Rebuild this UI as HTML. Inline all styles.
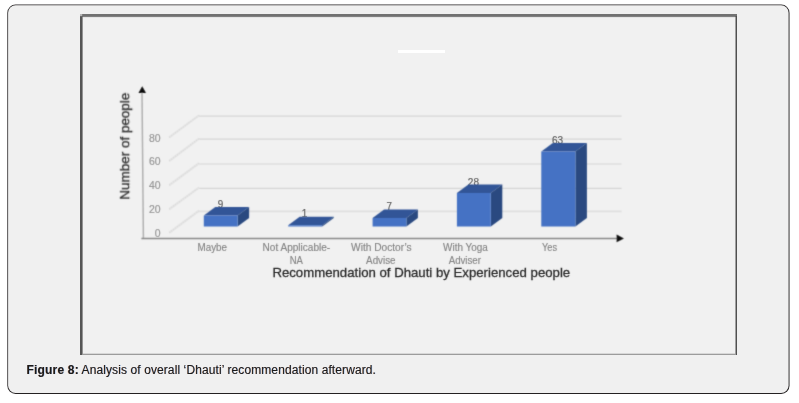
<!DOCTYPE html>
<html lang="en">
<head>
<meta charset="utf-8">
<title>Figure 8</title>
<style>
html,body{margin:0;padding:0;background:#fff;}
body{width:799px;height:403px;position:relative;overflow:hidden;font-family:"Liberation Sans",sans-serif;}
#art{position:absolute;left:0;top:0;width:799px;height:403px;display:block;}
#cap{position:absolute;left:26.6px;top:363px;margin:0;font-size:12px;line-height:14px;color:#1a1a1a;white-space:nowrap;letter-spacing:0.1px;text-shadow:-0.45px 0 0 rgba(225,95,0,0.36),0.45px 0 0 rgba(0,115,255,0.36);}
#cap b{font-weight:bold;letter-spacing:0.17px;}
svg text{font-family:"Liberation Sans",sans-serif;}
</style>
</head>
<body>
<svg id="art" width="799" height="403" viewBox="0 0 799 403">
  <defs>
    <filter id="soft" x="-5%" y="-5%" width="110%" height="110%"><feConvolveMatrix order="3" kernelMatrix="0.0256 0.1088 0.0256 0.1088 0.4624 0.1088 0.0256 0.1088 0.0256" divisor="1" edgeMode="duplicate"/></filter>
    <filter id="softL" x="-20%" y="-20%" width="140%" height="140%"><feConvolveMatrix order="3" kernelMatrix="0.0049 0.0602 0.0049 0.0602 0.7396 0.0602 0.0049 0.0602 0.0049" divisor="1" edgeMode="duplicate"/></filter>
    <filter id="softT" x="-5%" y="-5%" width="110%" height="110%"><feConvolveMatrix order="3" kernelMatrix="0.0100 0.0800 0.0100 0.0800 0.6400 0.0800 0.0100 0.0800 0.0100" divisor="1" edgeMode="duplicate"/></filter>
  </defs>
  <!-- card -->
  <rect x="7.32" y="4.6" width="782.2" height="389.35" rx="8.3" ry="8.3" fill="#242122"/>
  <rect x="8.1" y="5.27" width="780.5" height="387.75" rx="7.5" ry="7.5" fill="#f0f0f0"/>
  <!-- picture frame -->
  <g>
    <rect x="80" y="14" width="657" height="341" fill="#f1f1f1"/>
    <rect x="82" y="14" width="655" height="2" fill="#717171"/>
    <rect x="82" y="16" width="655" height="1" fill="#808080"/>
    <rect x="83" y="17" width="652" height="1" fill="#e4e4e4"/>
    <rect x="80" y="16" width="2.6" height="339" fill="#565656"/>
    <rect x="80" y="14" width="2.2" height="2.2" fill="#b4b4b4"/>
    <rect x="735.5" y="16" width="1.5" height="339" fill="#505050"/>
    <rect x="82.6" y="353.7" width="653" height="1.3" fill="#9c9c9c"/>
  </g>
  <!-- chart -->
  <rect x="398" y="50" width="47" height="3" fill="#ffffff"/>
  <g filter="url(#soft)">
    <!-- grid -->
    <g stroke="#d6d6d6" stroke-width="1.2" fill="none">
      <path d="M199 116.1H621.6M199 139.1H621.6M199 164H621.6M199 188.3H621.6"/>
      <path d="M199 211.4H621.6" stroke="#dfdfdf" stroke-width="1.8"/>
    </g>
    <g stroke="#e6e6e6" stroke-width="2.4" fill="none">
      <path d="M169.2 137.4L199 115.4M169.2 161L199 138.6M169.2 185.2L199 163.2M169.2 209.2L199 187.6M169.2 232.8L199 210.8"/>
    </g>
    <g stroke="#dadada" stroke-width="1.3" stroke-dasharray="1.3 1.1" fill="none">
      <path d="M169.2 137.4L199 115.4M169.2 161L199 138.6M169.2 185.2L199 163.2M169.2 209.2L199 187.6M169.2 232.8L199 210.8"/>
    </g>
    <!-- axes -->
    <path d="M142 92L143.4 238" stroke="#b0b0b0" stroke-width="1.5" fill="none"/>
    <path d="M141.4 238.4H617" stroke="#888888" stroke-width="1.5" fill="none"/>
    <path d="M142.2 86.2L146 93H138.5Z" fill="#0a0a0a"/>
    <path d="M623.9 238.4L616.6 242.3V234.5Z" fill="#0a0a0a"/>
  </g>
  <!-- data labels -->
  <g>
    <g filter="url(#softL)" font-size="10.8" fill="#646464" stroke="#646464" stroke-width="0.2" text-anchor="middle">
      <text x="220.6" y="207.9" textLength="5.5" lengthAdjust="spacingAndGlyphs">9</text>
      <text x="304.6" y="217.1" textLength="5.5" lengthAdjust="spacingAndGlyphs">1</text>
      <text x="389.2" y="209.7" textLength="5.5" lengthAdjust="spacingAndGlyphs">7</text>
      <text x="473.4" y="186.2" textLength="11.2" lengthAdjust="spacingAndGlyphs">28</text>
      <text x="557.6" y="143.9" textLength="11.2" lengthAdjust="spacingAndGlyphs">63</text>
    </g>
  </g>
  <!-- bars -->
  <g filter="url(#soft)">
    <g>
      <!-- Maybe 9 -->
      <path d="M203.8 215.6L215.3 207.1H249.1L237.6 215.6Z" fill="#315597"/>
      <path d="M237.6 215.6L249.1 207.1V218.1L237.6 226.6Z" fill="#294980"/>
      <path d="M203.8 215.6H237.6V226.6H203.8Z" fill="#4472c4"/>
      <!-- Not Applicable 1 -->
      <path d="M288.2 225.3L299.7 216.8H333.7L322.2 225.3Z" fill="#315597"/>
      <path d="M322.2 225.3L333.7 216.8V218.1L322.2 226.6Z" fill="#294980"/>
      <path d="M288.2 225.3H322.2V226.6H288.2Z" fill="#4472c4"/>
      <!-- With Doctor 7 -->
      <path d="M372.6 218.1L384.1 209.6H417.9L406.4 218.1Z" fill="#315597"/>
      <path d="M406.4 218.1L417.9 209.6V218.1L406.4 226.6Z" fill="#294980"/>
      <path d="M372.6 218.1H406.4V226.6H372.6Z" fill="#4472c4"/>
      <!-- With Yoga 28 -->
      <path d="M456.9 193.1L468.4 184.6H502.3L490.8 193.1Z" fill="#315597"/>
      <path d="M490.8 193.1L502.3 184.6V218.1L490.8 226.6Z" fill="#294980"/>
      <path d="M456.9 193.1H490.8V226.6H456.9Z" fill="#4472c4"/>
      <!-- Yes 63 -->
      <path d="M541.3 151.5L552.8 143.0H586.9L575.4 151.5Z" fill="#315597"/>
      <path d="M575.4 151.5L586.9 143.0V218.1L575.4 226.6Z" fill="#294980"/>
      <path d="M541.3 151.5H575.4V226.6H541.3Z" fill="#4472c4"/>
    </g>
  </g>
  <g filter="url(#softT)">
    <!-- y tick labels -->
    <g font-size="10.4" fill="#999" stroke="#999" stroke-width="0.2" text-anchor="end">
      <text x="160.6" y="141.6" textLength="11.6" lengthAdjust="spacingAndGlyphs">80</text>
      <text x="160.6" y="165.4" textLength="11.6" lengthAdjust="spacingAndGlyphs">60</text>
      <text x="160.6" y="189.2" textLength="11.6" lengthAdjust="spacingAndGlyphs">40</text>
      <text x="160.6" y="212.9" textLength="11.6" lengthAdjust="spacingAndGlyphs">20</text>
      <text x="160.6" y="236.8" textLength="5.8" lengthAdjust="spacingAndGlyphs">0</text>
    </g>
    <!-- category labels -->
    <g font-size="10" fill="#868686" stroke="#868686" stroke-width="0.15" text-anchor="middle">
      <text x="212.3" y="250.6" textLength="29.4" lengthAdjust="spacingAndGlyphs">Maybe</text>
      <text x="296.4" y="250.6" textLength="67.6" lengthAdjust="spacingAndGlyphs">Not Applicable-</text>
      <text x="296.3" y="263.5" textLength="13.2" lengthAdjust="spacingAndGlyphs">NA</text>
      <text x="381.4" y="250.6" textLength="60.6" lengthAdjust="spacingAndGlyphs">With Doctor’s</text>
      <text x="380.8" y="263.5" textLength="29.4" lengthAdjust="spacingAndGlyphs">Advise</text>
      <text x="465.5" y="250.6" textLength="44.8" lengthAdjust="spacingAndGlyphs">With Yoga</text>
      <text x="464.8" y="263.5" textLength="32.2" lengthAdjust="spacingAndGlyphs">Adviser</text>
      <text x="549.5" y="250.6" textLength="15" lengthAdjust="spacingAndGlyphs">Yes</text>
    </g>
    <!-- axis titles -->
    <text x="272.4" y="277.1" font-size="13" fill="#2c2c2c" stroke="#2c2c2c" stroke-width="0.28" textLength="297.8" lengthAdjust="spacingAndGlyphs">Recommendation of Dhauti by Experienced people</text>
    <text transform="translate(129.2 199.7) rotate(-90)" font-size="13" fill="#2c2c2c" stroke="#2c2c2c" stroke-width="0.28" textLength="107.1" lengthAdjust="spacingAndGlyphs">Number of people</text>
  </g>
</svg>
<p id="cap"><b>Figure 8:</b> Analysis of overall ‘Dhauti’ recommendation afterward.</p>
</body>
</html>
